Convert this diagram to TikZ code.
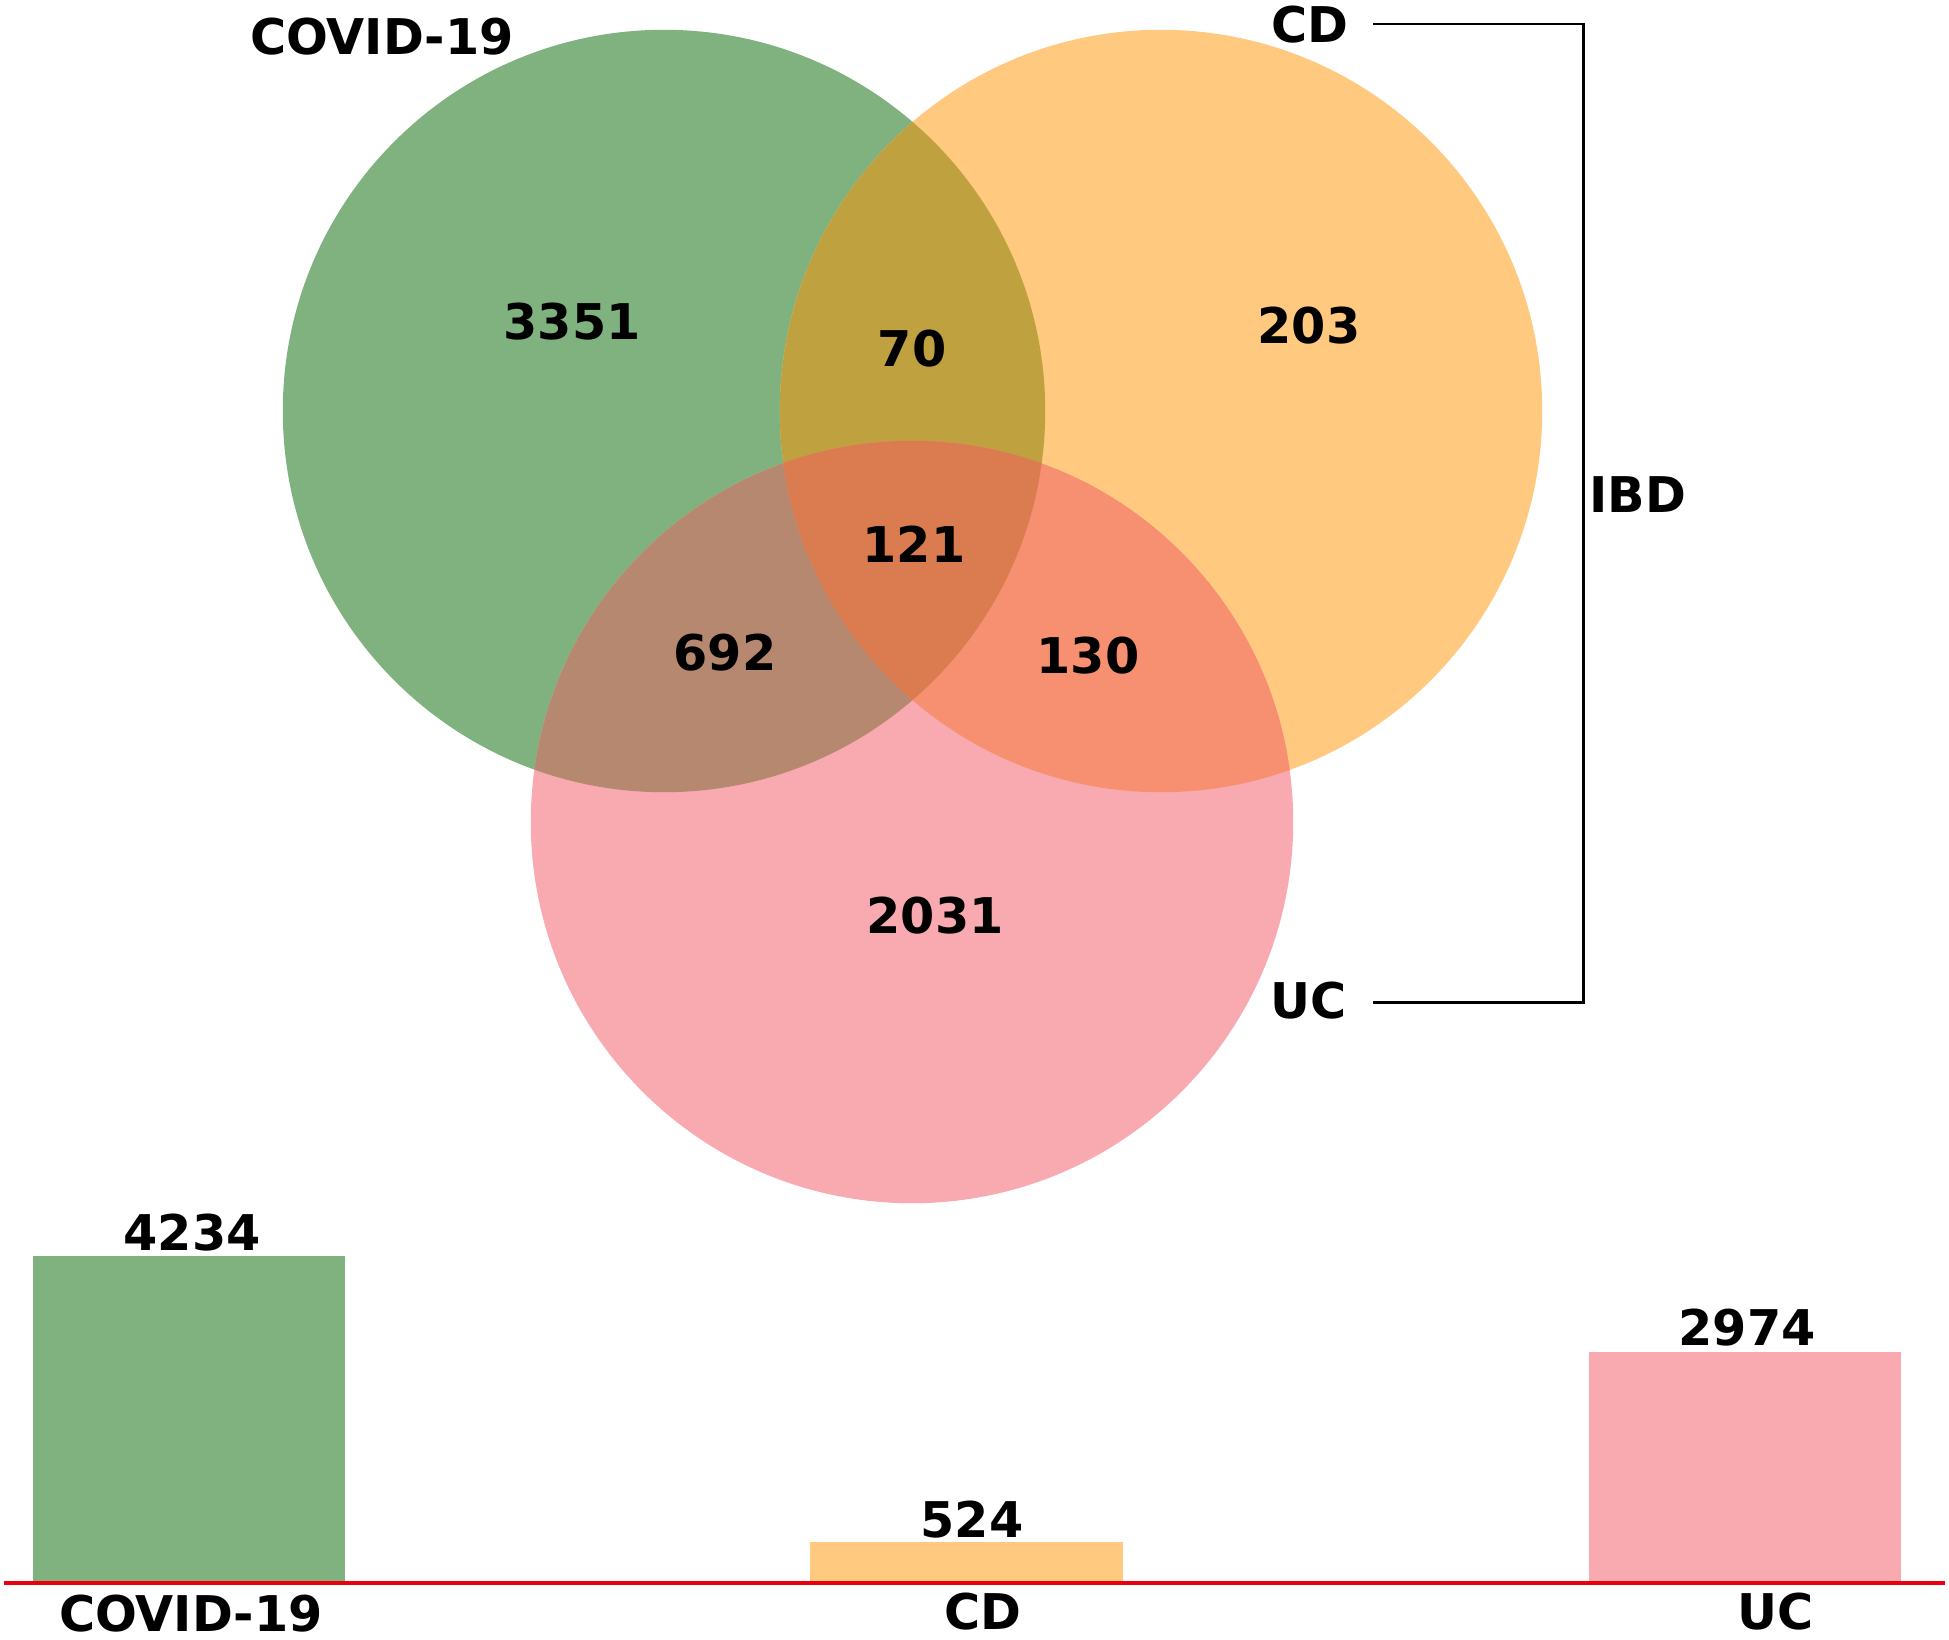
\documentclass[tikz,border=0pt]{standalone}
\usepackage{fontspec}
\setmainfont{DejaVu Sans}
\usepackage{tikz}
\usetikzlibrary{positioning,calc}
\definecolor{cgreen}{RGB}{128,178,128}
\definecolor{corange}{RGB}{255,201,128}
\definecolor{cpink}{RGB}{248,170,176}
\definecolor{colive}{RGB}{191,161,64}
\definecolor{cmauve}{RGB}{182,136,112}
\definecolor{csalmon}{RGB}{246,144,112}
\definecolor{ctriple}{RGB}{218,124,80}
\definecolor{baseRed}{RGB}{232,0,12}
\tikzset{
    lbl/.style     = {font=\bfseries\fontsize{14}{16}\selectfont, inner sep=0pt},
    bracket/.style = {draw=black, line width=0.85pt},
    axis/.style    = {draw=baseRed, line width=1.2pt},
}

\begin{document}
\begin{tikzpicture}[x=0.01cm, y=-0.01cm]
    \useasboundingbox (0,0) rectangle (1949,1639);
    % Circle centres
    \coordinate (g) at (664,411);
    \coordinate (o) at (1161,411);
    \coordinate (p) at (912,822);
    % Venn regions
    \fill[cgreen]  (g) circle[radius=3.81cm];
    \fill[corange] (o) circle[radius=3.81cm];
    \fill[cpink]   (p) circle[radius=3.81cm];
    \begin{scope}
        \clip (g) circle[radius=3.81cm];
        \fill[colive] (o) circle[radius=3.81cm];
        \fill[cmauve] (p) circle[radius=3.81cm];
    \end{scope}
    \begin{scope}
        \clip (o) circle[radius=3.81cm];
        \fill[csalmon] (p) circle[radius=3.81cm];
    \end{scope}
    \begin{scope}
        \clip (g) circle[radius=3.81cm];
        \clip (o) circle[radius=3.81cm];
        \fill[ctriple] (p) circle[radius=3.81cm];
    \end{scope}
    % Venn counts
    \node[lbl] (n3351) at (572,322) {3351};
    \node[lbl] (n70)   at (912,349) {70};
    \node[lbl] (n203)  at (1309,326) {203};
    \node[lbl] (n121)  at (914,544) {121};
    \node[lbl] (n692)  at (725,653) {692};
    \node[lbl] (n130)  at (1088,656) {130};
    \node[lbl] (n2031) at (935,916) {2031};
    % Set labels
    \node[lbl] (covid) at (382,37) {COVID-19};
    \node[lbl] (cd)    at (1310,25) {CD};
    \node[lbl] (uc)    at (1309,1001) {UC};
    \node[lbl] (ibd)   at (1638,495) {IBD};
    % Bracket
    \coordinate (bA) at (1373,24);
    \coordinate (bB) at (1583,1002);
    \coordinate (bC) at (1373,1002);
    \draw[bracket] (bA) -| (bB) -- (bC);
    % Bars
    \fill[cgreen]  (33,1256) rectangle (345,1582);
    \fill[corange] (810,1542) rectangle (1123,1582);
    \fill[cpink]   (1589,1352) rectangle (1901,1582);
    \coordinate (axL) at (4,1583);
    \coordinate (axR) at (1945,1583);
    \draw[axis] (axL) -- (axR);
    \node[lbl] (v4234) at (192,1233) {4234};
    \node[lbl] (v524)  at (972,1520) {524};
    \node[lbl] (v2974) at (1747,1328) {2974};
    \node[lbl] (xcovid) at (191,1614) {COVID-19};
    \node[lbl] (xcd)    at (983,1612) {CD};
    \node[lbl] (xuc)    at (1776,1612) {UC};
\end{tikzpicture}
\end{document}
